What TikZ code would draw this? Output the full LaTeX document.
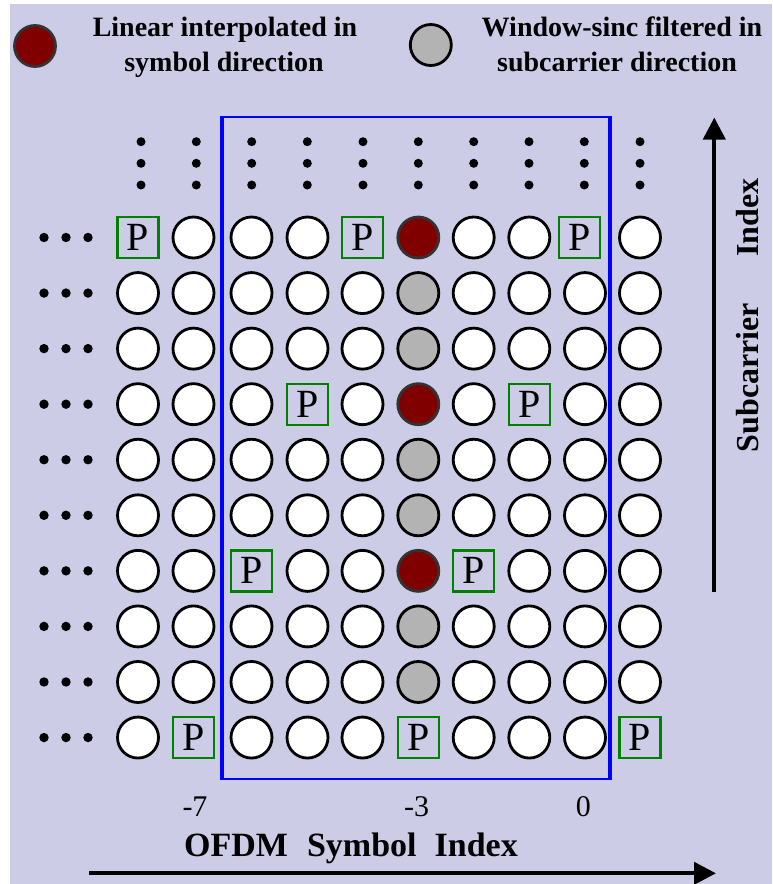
\documentclass[tikz,border=0pt]{standalone}
\usepackage{fontspec}
\setmainfont{Liberation Serif}
\usetikzlibrary{arrows.meta}
\definecolor{bg}{RGB}{204,204,230}
\definecolor{redc}{RGB}{128,0,0}
\definecolor{grayc}{RGB}{179,179,179}
\definecolor{pgreen}{RGB}{0,128,0}
\definecolor{bluel}{RGB}{0,0,255}
\newcommand\celltxtpil{P}
\newcommand\celltxtpln{}
\newcommand\celltxtitp{}
\newcommand\celltxtflt{}
\begin{document}
\begin{tikzpicture}[x=1pt,y=-1pt,
  pln/.style={circle,draw=black,line width=2.8pt,fill=white,minimum size=41pt,inner sep=0pt},
  itp/.style={pln,fill=redc,draw=black!80},
  flt/.style={pln,fill=grayc},
  pil/.style={rectangle,draw=pgreen,line width=2.3pt,minimum size=41pt,inner sep=0pt,
    font=\fontsize{40}{40}\selectfont},
  dotc/.style={circle,fill=black,draw=none,inner sep=0pt,minimum size=9.4pt},
  title/.style={font=\bfseries\fontsize{28}{34}\selectfont,anchor=base},
  num/.style={font=\fontsize{30}{30}\selectfont,anchor=base},
  axis/.style={line width=4pt,-{Triangle[length=22pt,width=22pt]}},
  frame/.style={draw=bluel}]
\useasboundingbox (0,0) rectangle (772,884);
\fill[white] (0,0) rectangle (772,884);
\fill[bg] (10,4) rectangle (772,884);
% legend
\node[itp] (legR) at (35,46) {};
\node[flt] (legG) at (430.8,45) {};
\node[title] (t1a) at (225,36) {Linear interpolated in};
\node[title] (t1b) at (224,71) {symbol direction};
\node[title] (t2a) at (622,36) {Window-sinc filtered in};
\node[title] (t2b) at (617,71) {subcarrier direction};
% blue frame
\coordinate (fTL) at (221.7,117.3);
\coordinate (fTR) at (610,117.3);
\coordinate (fBL) at (221.7,779);
\coordinate (fBR) at (610,779);
\draw[frame,line width=2pt] (fTL) -- (fTR);
\draw[frame,line width=2pt] (fBL) -- (fBR);
\draw[frame,line width=4pt] ([yshift=1pt]fTL) -- ([yshift=-1pt]fBL);
\draw[frame,line width=4pt] ([yshift=1pt]fTR) -- ([yshift=-1pt]fBR);
% grid
\foreach [count=\r] \rowspec in {
  {pil,pln,pln,pln,pil,itp,pln,pln,pil,pln},
  {pln,pln,pln,pln,pln,flt,pln,pln,pln,pln},
  {pln,pln,pln,pln,pln,flt,pln,pln,pln,pln},
  {pln,pln,pln,pil,pln,itp,pln,pil,pln,pln},
  {pln,pln,pln,pln,pln,flt,pln,pln,pln,pln},
  {pln,pln,pln,pln,pln,flt,pln,pln,pln,pln},
  {pln,pln,pil,pln,pln,itp,pil,pln,pln,pln},
  {pln,pln,pln,pln,pln,flt,pln,pln,pln,pln},
  {pln,pln,pln,pln,pln,flt,pln,pln,pln,pln},
  {pln,pil,pln,pln,pln,pil,pln,pln,pln,pil}}{
  \pgfmathsetmacro\yy{237.5+55.56*(\r-1)}
  \foreach [count=\c] \t in \rowspec {
    \pgfmathsetmacro\xx{{138,193.5,251.5,307.5,362.5,418.3,473.7,529.3,585,640}[\c-1]}
    \ifnum\r=1 \ifnum\c=9 \pgfmathsetmacro\xx{579.5}\fi\fi
    \node[\t] (n-\r-\c) at (\xx,\yy) {\csname celltxt\t\endcsname};
  }
  \foreach [count=\k] \dx in {44,66,88}
    \node[dotc] (ld-\r-\k) at (\dx,\yy) {};
}
% top vertical dots
\foreach [count=\c] \xx in {141,196.3,251.7,307.3,363,418.3,473.7,529,584.3,640}
  \foreach [count=\k] \yy in {141.7,163.3,185}
    \node[dotc,minimum size=9pt] (td-\c-\k) at (\xx,\yy) {};
% axis numbers
\node[num] (m7) at (195,816.5) {-7};
\node[num] (m3) at (416.7,816.5) {-3};
\node[num] (z0) at (583.3,816.5) {0};
\node[font=\bfseries\fontsize{34}{34}\selectfont,anchor=base] (xl) at (351,856.5)
  {OFDM\hspace{19pt}Symbol\hspace{18pt}Index};
% axes
\coordinate (hs) at (89,873.3);
\coordinate (he) at (716,873.3);
\draw[axis] (hs) -- (he);
\coordinate (vs) at (714.3,591.7);
\coordinate (ve) at (714.3,117.5);
\draw[axis] (vs) -- (ve);
\node[font=\bfseries\fontsize{32}{32}\selectfont,rotate=90] (yl) at (748,315.5)
  {Subcarrier\hspace{46pt}Index};
\end{tikzpicture}
\end{document}
